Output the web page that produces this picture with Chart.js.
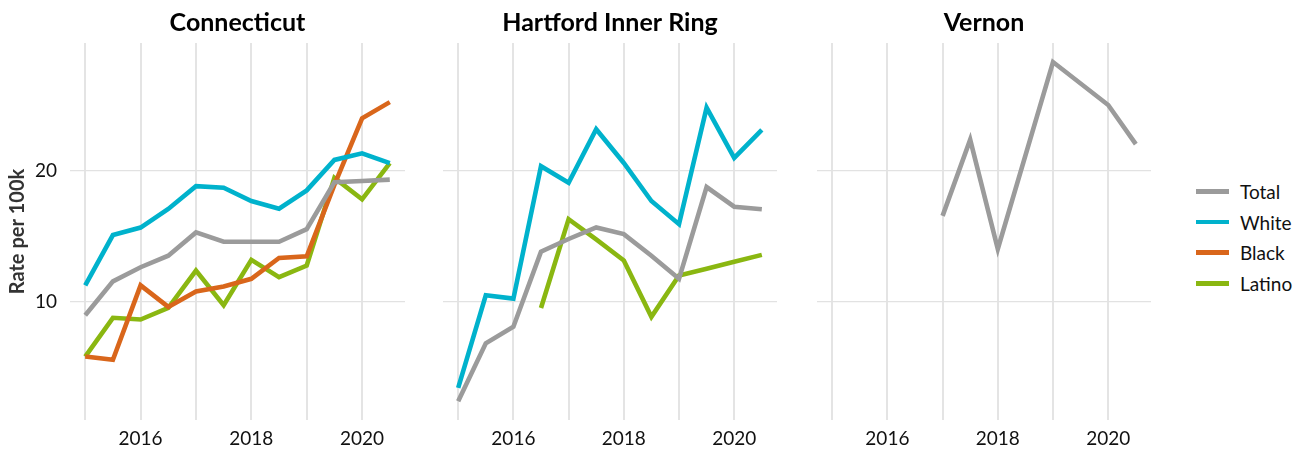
<!DOCTYPE html>
<html>
<head>
<meta charset="utf-8">
<script src="https://cdn.jsdelivr.net/npm/chart.js@4.4.0/dist/chart.umd.min.js"></script>
<style>
  body { margin: 0; background: #fff; }
  #wrap { position: relative; width: 1305px; height: 450px; overflow: hidden; font-family: Lato, sans-serif; }
  .panel { position: absolute; top: 0; height: 450px; }
  #legend { position: absolute; left: 1196px; top: 176px; }
  .item { height: 30.7px; display: flex; align-items: center; font-size: 19px; color: #111; }
  .swatch { width: 33px; height: 4.5px; margin-right: 11px; }
</style>
</head>
<body>
<div id="wrap">
  <div class="panel" style="left:0;width:405px"><canvas id="c1"></canvas></div>
  <div class="panel" style="left:443px;width:334px"><canvas id="c2"></canvas></div>
  <div class="panel" style="left:817px;width:334px"><canvas id="c3"></canvas></div>
  <div id="legend"></div>
</div>
<script>
const years = [2015, 2015.5, 2016, 2016.5, 2017, 2017.5, 2018, 2018.5, 2019, 2019.5, 2020, 2020.5];
const groups = ['Total', 'White', 'Black', 'Latino'];
const colors = ['#9b9b9b', '#00b2cc', '#d9661b', '#8ab711'];
const panels = ['Connecticut', 'Hartford Inner Ring', 'Vernon'];
const yTicks = [10, 20];
const xTicks = [2015, 2016, 2017, 2018, 2019, 2020];

// Connecticut
const ctTotal  = [8.98, 11.55, 12.63, 13.51, 15.28, 14.57, 14.57, 14.57, 15.53, 19.1, 19.2, 19.3];
const ctWhite  = [11.25, 15.08, 15.65, 17.07, 18.8, 18.68, 17.67, 17.09, 18.48, 20.8, 21.3, 20.55];
const ctBlack  = [5.83, 5.58, 11.25, 9.61, 10.79, 11.17, 11.75, 13.34, 13.46, 18.9, 23.97, 25.2];
const ctLatino = [5.83, 8.78, 8.65, 9.53, 12.38, 9.74, 13.19, 11.88, 12.76, 19.43, 17.8, 20.55];

// Hartford Inner Ring
const hrTotal  = [2.43, 6.84, 8.10, 13.82, 14.78, 15.66, 15.15, 13.51, 11.75, 18.73, 17.24, 17.04];
const hrWhite  = [3.44, 10.49, 10.24, 20.32, 19.06, 23.14, 20.57, 17.67, 15.91, 24.78, 20.95, 23.09];
const hrBlack  = [null, null, null, null, null, null, null, null, null, null, null, null];
const hrLatino = [null, null, null, 9.53, 16.29, 14.75, 13.14, 8.85, 12.0, 12.52, 13.05, 13.57];

// Vernon
const vnTotal  = [null, null, null, null, 16.54, 22.34, 14.02, null, 28.25, null, 24.98, 22.0];
const vnWhite  = [null, null, null, null, null, null, null, null, null, null, null, null];
const vnBlack  = [null, null, null, null, null, null, null, null, null, null, null, null];
const vnLatino = [null, null, null, null, null, null, null, null, null, null, null, null];

const panelData = [
  [ctTotal, ctWhite, ctBlack, ctLatino],
  [hrTotal, hrWhite, hrBlack, hrLatino],
  [vnTotal, vnWhite, vnBlack, vnLatino]
];

Chart.defaults.font.family = 'Lato, sans-serif';
Chart.defaults.color = '#111';

function toPoints(vals) {
  return years.map((x, i) => ({ x: x, y: vals[i] })).filter(p => p.y !== null);
}

function makeChart(id, idx) {
  const first = idx === 0;
  new Chart(document.getElementById(id), {
    type: 'line',
    data: {
      datasets: groups.map((g, i) => ({
        label: g,
        data: toPoints(panelData[idx][i]),
        borderColor: colors[i],
        backgroundColor: colors[i],
        borderWidth: 4.6,
        pointRadius: 0,
        tension: 0,
        spanGaps: true,
        borderJoinStyle: 'miter',
        borderCapStyle: 'butt'
      }))
    },
    options: {
      responsive: true,
      maintainAspectRatio: false,
      animation: false,
      events: [],
      layout: { padding: 0 },
      plugins: {
        legend: { display: false },
        tooltip: { enabled: false },
        title: {
          display: true,
          text: panels[idx],
          fullSize: false,
          color: '#000',
          font: { size: 25, weight: 'bold' },
          padding: { top: 8, bottom: 5 }
        }
      },
      scales: {
        x: {
          type: 'linear',
          min: 2014.725,
          max: 2020.775,
          border: { display: false },
          grid: { color: '#e4e4e4', lineWidth: 2, drawTicks: false },
          afterBuildTicks: s => { s.ticks = xTicks.map(v => ({ value: v })); },
          afterFit: s => { s.height = 30; },
          ticks: {
            autoSkip: false,
            maxRotation: 0,
            padding: 7,
            color: '#111',
            font: { size: 19 },
            callback: v => (v % 2 === 0 ? String(v) : '')
          }
        },
        y: {
          min: 1.0,
          max: 29.7,
          border: { display: false },
          grid: { color: '#e2e2e2', lineWidth: 1.3, drawTicks: false },
          afterBuildTicks: s => { s.ticks = yTicks.map(v => ({ value: v })); },
          afterFit: s => { s.width = first ? 70 : 0; },
          title: {
            display: first,
            text: 'Rate per 100k',
            color: '#333',
            font: { size: 20, weight: 'bold' },
            padding: { top: 6, bottom: 0 }
          },
          ticks: {
            display: first,
            padding: 13,
            color: '#111',
            font: { size: 19 }
          }
        }
      }
    }
  });
}

makeChart('c1', 0);
makeChart('c2', 1);
makeChart('c3', 2);

const legend = document.getElementById('legend');
groups.forEach((g, i) => {
  const row = document.createElement('div');
  row.className = 'item';
  const sw = document.createElement('div');
  sw.className = 'swatch';
  sw.style.background = colors[i];
  const label = document.createElement('span');
  label.textContent = g;
  row.appendChild(sw);
  row.appendChild(label);
  legend.appendChild(row);
});
</script>
</body>
</html>
